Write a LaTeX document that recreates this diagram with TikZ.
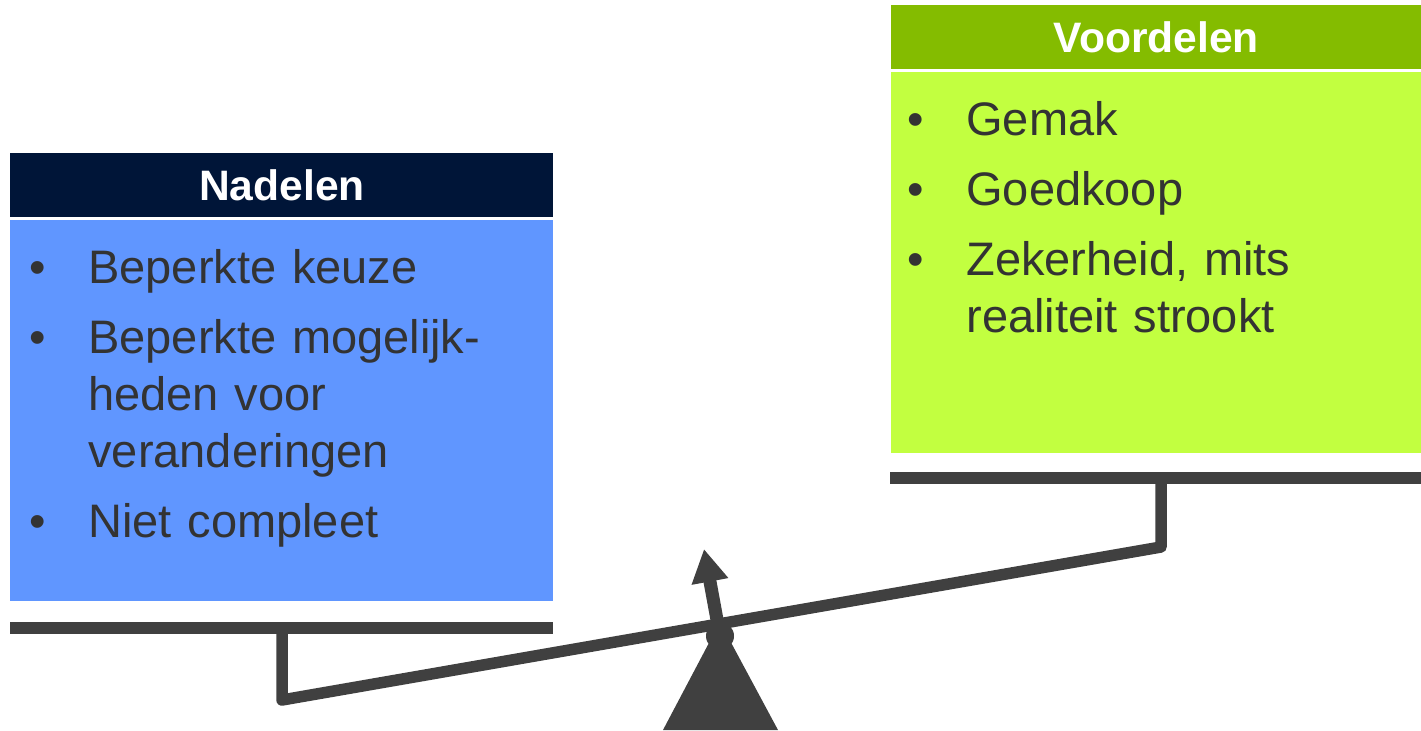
\documentclass[tikz,border=0pt]{standalone}
\usepackage{fontspec}
\setmainfont{Liberation Sans}
\usetikzlibrary{positioning,arrows.meta}
\definecolor{nachtblauw}{RGB}{0,21,56}
\definecolor{helderblauw}{RGB}{96,150,255}
\definecolor{donkergroen}{RGB}{132,188,0}
\definecolor{lichtgroen}{RGB}{194,255,64}
\definecolor{tekstgrijs}{RGB}{51,51,51}
\definecolor{balkgrijs}{RGB}{64,64,64}
\newcommand{\punt}[1]{\hangindent=39pt\hangafter=1\noindent\makebox[39pt][l]{\hspace{9.5pt}\textbullet}#1\par}
\tikzset{
  kop/.style={fill=#1,text=white,font=\fontsize{21.3}{25}\selectfont\bfseries,
    minimum width=271.5pt,minimum height=32pt,inner sep=0pt,anchor=north west},
  vak/.style={fill=#1,minimum height=190.5pt,inner sep=0pt},
  lijst/.style={text=tekstgrijs,font=\fontsize{23.5}{28.5}\selectfont,
    text width=#1,align=left,inner sep=0pt,anchor=base west,
    execute at begin node={\setlength{\parskip}{6.5pt}}},
  balk/.style={draw=balkgrijs,line width=5.75pt,line join=round}
}
\begin{document}
\begin{tikzpicture}[x=0.5pt,y=-0.5pt]
  \useasboundingbox (0,0) rectangle (1421,730);

  % nadelen
  \node[kop=nachtblauw] (kopnadelen) at (10,153) {Nadelen};
  \node[vak=helderblauw,minimum width=271.5pt,below=1pt of kopnadelen] (vaknadelen) {};
  \node[lijst=271.5pt] (lijstnadelen) at (10,283) {%
    \punt{Beperkte keuze}
    \punt{Beperkte mogelijk-\newline heden voor\newline veranderingen}
    \punt{Niet compleet}};

  % voordelen
  \node[kop=donkergroen,minimum width=265pt] (kopvoordelen) at (891,5) {Voordelen};
  \node[vak=lichtgroen,minimum width=265pt,below=1pt of kopvoordelen] (vakvoordelen) {};
  \node[lijst=265pt] (lijstvoordelen) at (888,135) {%
    \punt{Gemak}
    \punt{Goedkoop}
    \punt{Zekerheid, mits\newline realiteit strookt}};

  % wip
  \coordinate (linksbalk) at (10,628);
  \coordinate (linksbalkeind) at (553,628);
  \coordinate (rechtsbalk) at (890,478);
  \coordinate (rechtsbalkeind) at (1421,478);
  \coordinate (linkshoek) at (282,700);
  \coordinate (rechtshoek) at (1161,547);
  \coordinate (draaipunt) at (720,636);
  \coordinate (pijlpunt) at (704,549);

  \draw[balk] (linksbalk) -- (linksbalkeind);
  \draw[balk] (rechtsbalk) -- (rechtsbalkeind);
  \draw[balk] (282,628) -- (linkshoek) -- (rechtshoek) -- (1161,478);
  \fill[balkgrijs] (663,730) -- (720,622) -- (778,730) -- cycle;
  \fill[balkgrijs] (draaipunt) circle (7pt);
  \draw[balk,line width=6.5pt,-{Triangle[width=17.5pt,length=16.5pt]}] (draaipunt) -- (pijlpunt);
\end{tikzpicture}
\end{document}
